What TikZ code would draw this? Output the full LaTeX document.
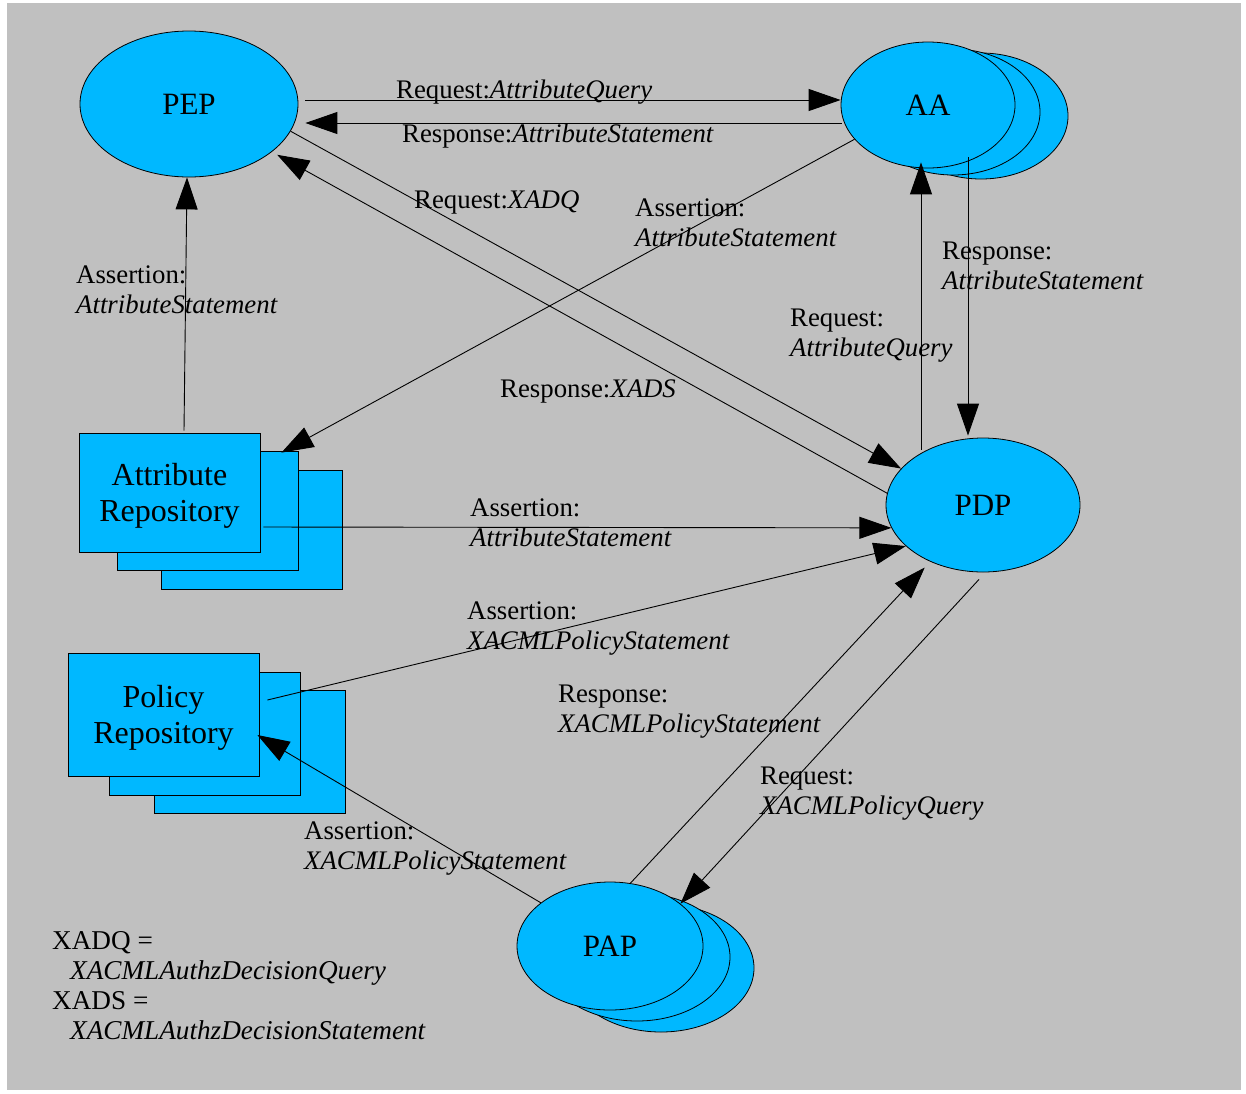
\documentclass[tikz,border=0pt]{standalone}
\usepackage{fontspec}
\setmainfont{Liberation Serif}
\usepackage{color}
\definecolor{mybackgray}{RGB}{192,192,192}
\definecolor{myskyblue}{RGB}{0,184,255}
\usepackage{tikz}
\usetikzlibrary{shapes.geometric,arrows.meta,positioning,calc}

\begin{document}
\begin{tikzpicture}[
  x=1pt, y=-1pt,
  myellipse/.style 2 args={
    draw,
    ellipse,
    fill=myskyblue,
    line width=0.8pt,
    inner sep=0pt,
    minimum width=#1,
    minimum height=#2,
    font=\fontsize{31}{36}\selectfont
    },
  myrepo/.style 2 args={
    draw,
    rectangle,
    fill=myskyblue,
    line width=0.8pt,
    inner sep=0pt,
    align=center,
    text depth=0pt,
    minimum width=#1,
    minimum height=#2,
    font=\fontsize{32}{36}\selectfont
    },
  myarrow/.style={
    line width=0.9pt,
    -{Triangle[length=32pt,width=22pt]}
    },
  mylabel/.style={
    anchor=north west,
    inner sep=0pt,
    align=left,
    font=\fontsize{26.8}{29.5}\selectfont
    }
]

\useasboundingbox (0,0) rectangle (1246,1093);
\fill[mybackgray] (7,3) rectangle (1241,1090);

\node[myellipse={218pt}{146pt}] (pep) at (189,104) {PEP};

\foreach \dx/\dy/\i in {53/11/3, 25/7/2}
  \node[myellipse={174pt}{126pt}] (aa\i) at (928+\dx,105+\dy) {};
\node[myellipse={174pt}{126pt}] (aa) at (928,105) {AA};

\node[myellipse={194pt}{134pt}] (pdp) at (983,505) {PDP};

\foreach \dx/\dy/\i in {51/22/3, 27/11/2}
  \node[myellipse={186pt}{128pt}] (pap\i) at (610+\dx,946+\dy) {};
\node[myellipse={186pt}{128pt}] (pap) at (610,946) {PAP};

\foreach \dx/\dy/\i in {82/37/3, 38/18/2}
  \node[myrepo={181pt}{119pt}] (attr\i) at (169.5+\dx,492.5+\dy) {};
\node[myrepo={181pt}{119pt}] (attr) at (169.5,492.5) {Attribute\\Repository};

\foreach \dx/\dy/\i in {86/37/3, 41/19/2}
  \node[myrepo={191pt}{123pt}] (pol\i) at (163.5+\dx,714.5+\dy) {};
\node[myrepo={191pt}{123pt}] (pol) at (163.5,714.5) {Policy\\Repository};

\draw[myarrow] ([xshift=7pt,yshift=4pt]pep.east) -- ([yshift=5pt]aa.west);
\draw[myarrow] ([xshift=1pt,yshift=-18pt]aa.west) -- ([xshift=7pt,yshift=-19pt]pep.east);
\draw[myarrow] (pep.-15) -- (pdp.156);
\draw[myarrow, shorten >=6pt] (pdp.173) -- (pep.-30);
\draw[myarrow] (aa.205) -- ([xshift=-17pt,yshift=-2pt]attr2.north east);
\draw[myarrow] ([xshift=-62pt,yshift=-12pt]pdp.north) -- ([xshift=-7pt,yshift=6pt]aa.south);
\draw[myarrow] ([xshift=40pt,yshift=11pt]aa.south) -- ([xshift=-15pt,yshift=2pt]pdp.north);
\draw[myarrow] ([xshift=14.5pt,yshift=2pt]attr.north) -- ([xshift=-2pt]pep.south);
\draw[myarrow] ([xshift=3pt,yshift=-34.5pt]attr.east) -- (pdp.194);
\draw[myarrow] ([xshift=8pt,yshift=14.5pt]pol.east) -- (pdp.208);
\draw[myarrow] (pap.148) -- ([xshift=-2pt,yshift=-20.5pt]pol.east);
\draw[myarrow, shorten >=8pt] (pap.72) -- (pdp.227);
\draw[myarrow] ([xshift=-4pt,yshift=-7pt]pdp.south) -- (pap.31);

\node[mylabel] (reqaa) at (396,80) {Request:\textit{AttributeQuery}};
\node[mylabel] (resaa) at (402,124) {Response:\textit{AttributeStatement}};
\node[mylabel] (reqxadq) at (414,191) {Request:\textit{XADQ}};
\node[mylabel] (resxads) at (500,380) {Response:\textit{XADS}};
\node[mylabel] (assaa) at (635,199) {Assertion:\\\textit{AttributeStatement}};
\node[mylabel] (reqpdp) at (790,309) {Request:\\\textit{AttributeQuery}};
\node[mylabel] (respdp) at (942,242) {Response:\\\textit{AttributeStatement}};
\node[mylabel] (asspep) at (76,266) {Assertion:\\\textit{AttributeStatement}};
\node[mylabel] (assattr) at (470,499) {Assertion:\\\textit{AttributeStatement}};
\node[mylabel] (asspol) at (467,602) {Assertion:\\\textit{XACMLPolicyStatement}};
\node[mylabel] (respap) at (558,685) {Response:\\\textit{XACMLPolicyStatement}};
\node[mylabel] (reqpap) at (760,767) {Request:\\\textit{XACMLPolicyQuery}};
\node[mylabel] (asspap) at (304,822) {Assertion:\\\textit{XACMLPolicyStatement}};

\node[mylabel, font=\fontsize{27.2}{30}\selectfont] (legend) at (52,931) {XADQ =\\\hspace*{18pt}\textit{XACMLAuthzDecisionQuery}\\XADS =\\\hspace*{18pt}\textit{XACMLAuthzDecisionStatement}};
\end{tikzpicture}
\end{document}
